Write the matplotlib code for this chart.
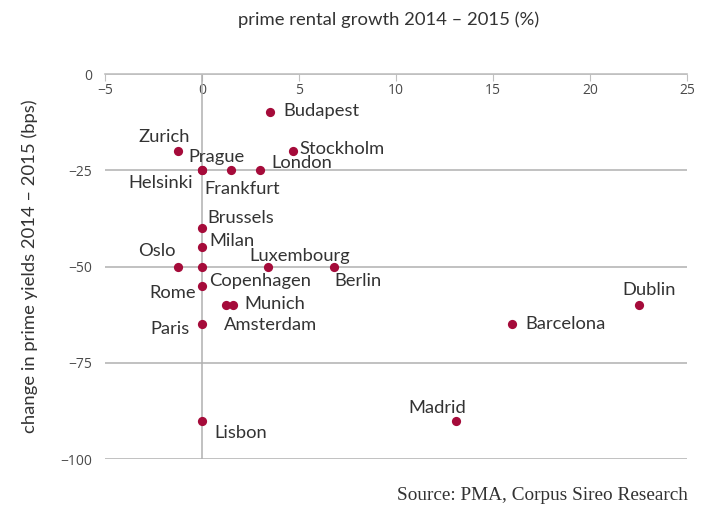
import matplotlib
matplotlib.use("Agg")
import matplotlib.pyplot as plt

# ---- data ----
cities = ["Budapest", "Zurich", "Stockholm", "Helsinki", "Frankfurt", "Prague", "London",
          "Brussels", "Milan", "Oslo", "Copenhagen", "Luxembourg", "Berlin", "Rome",
          "Amsterdam", "Munich", "Paris", "Lisbon", "Madrid", "Barcelona", "Dublin"]
rental_growth = [3.5, -1.25, 4.7, 0.0, 0.0, 1.5, 3.0,
                 0.0, 0.0, -1.25, 0.0, 3.4, 6.8, 0.0,
                 1.25, 1.6, 0.0, 0.0, 13.1, 16.0, 22.5]
yield_change = [-10, -20, -20, -25, -25, -25, -25,
                -40, -45, -50, -50, -50, -50, -55,
                -60, -60, -65, -90, -90, -65, -60]
x_ticks = [-5, 0, 5, 10, 15, 20, 25]
y_ticks = [0, -25, -50, -75, -100]

# label placement (pixel offsets from point, horizontal alignment)
label_pos = {
    "Budapest": (13, -3.5, "left"),
    "Zurich": (-14, 8.5, "center"),
    "Stockholm": (6.5, -3.5, "left"),
    "Helsinki": (-9, -18, "right"),
    "Frankfurt": (2, -24, "left"),
    "Prague": (-15, 8.6, "center"),
    "London": (11, 2, "left"),
    "Brussels": (5.5, 5.5, "left"),
    "Milan": (7, 1, "left"),
    "Oslo": (-2.5, 10, "right"),
    "Copenhagen": (7, -19.4, "left"),
    "Luxembourg": (32, 5.6, "center"),
    "Berlin": (0.5, -20, "left"),
    "Rome": (-6, -12, "right"),
    "Amsterdam": (-2, -25, "left"),
    "Munich": (11.5, -3.6, "left"),
    "Paris": (-12, -9.7, "right"),
    "Lisbon": (12.5, -17.8, "left"),
    "Madrid": (-19, 8, "center"),
    "Barcelona": (12.5, -4.7, "left"),
    "Dublin": (11, 9.7, "center"),
}

DOT = "#a50b3a"
TXT = "#333333"
GRID = "#b0b0b0"
LABEL_FONT = ["Lato", "DejaVu Sans"]

fig = plt.figure(figsize=(7.09, 5.11), dpi=100)
ax = fig.add_axes([105/709, 1-459/511, (687-105)/709, (459-74)/511])

ax.set_xlim(-5, 25)
ax.set_ylim(-100, 0)

for s in ["bottom", "left", "right"]:
    ax.spines[s].set_visible(False)
ax.spines["top"].set_color("#c0c0c0")
ax.spines["top"].set_linewidth(1.2)

ax.set_xticks(x_ticks)
ax.set_xticklabels([f"{t}".replace("-", "\u2212") for t in x_ticks])
ax.set_yticks(y_ticks)
ax.set_yticklabels([f"{t}".replace("-", "\u2212") for t in y_ticks])
ax.tick_params(axis="x", top=True, labeltop=True, bottom=False, labelbottom=False,
               direction="in", length=5, color="#c0c0c0", pad=-17,
               labelsize=10, labelcolor="#4a4a4a")
ax.tick_params(axis="y", length=0, pad=9, labelsize=10, labelcolor="#4a4a4a")
for lab in ax.get_xticklabels() + ax.get_yticklabels():
    lab.set_family(["Open Sans", "DejaVu Sans"])

ax.grid(axis="y", color=GRID, linewidth=1.1)
ax.set_axisbelow(True)
ax.axvline(0, color=GRID, linewidth=1.1, zorder=1)

ax.scatter(rental_growth, yield_change, s=44, color=DOT, zorder=3, linewidths=0)

for c, xv, yv in zip(cities, rental_growth, yield_change):
    dx, dy, ha = label_pos[c]
    ax.annotate(c, (xv, yv), xytext=(dx, dy), textcoords="offset pixels",
                ha=ha, va="baseline", fontsize=13.2, color=TXT,
                family=LABEL_FONT, zorder=4)

fig.text(389/709, 1-20/511, "prime rental growth 2014 \u2013 2015 (%)", ha="center",
         va="center", fontsize=13.3, color=TXT, family=LABEL_FONT)
fig.text(30/709, 1-266/511, "change in prime yields 2014 \u2013 2015 (bps)", ha="center",
         va="center", rotation=90, fontsize=13.3, color=TXT, family=LABEL_FONT)
fig.text(688/709, 1-500/511, "Source: PMA, Corpus Sireo Research", ha="right",
         va="baseline", fontsize=13.9, color=TXT, family=["Liberation Serif", "DejaVu Serif"])

fig.savefig("out.png", dpi=100, facecolor="white")
